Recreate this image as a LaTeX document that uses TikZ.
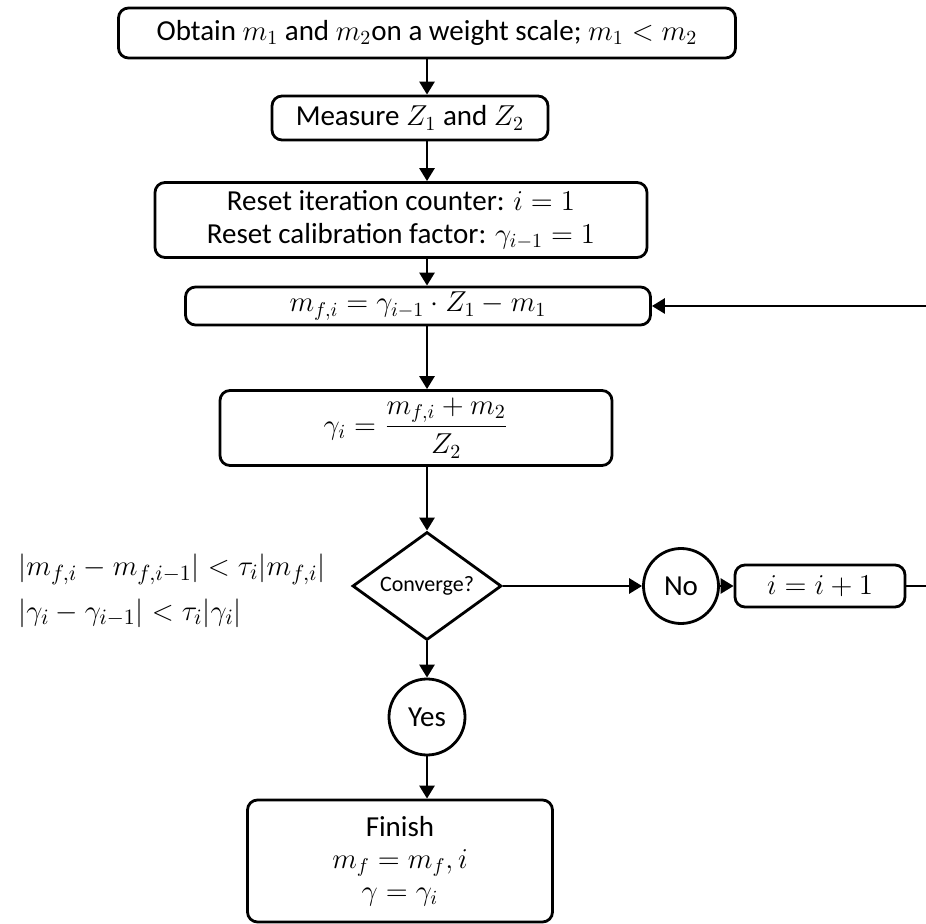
\documentclass[tikz,border=0pt]{standalone}
\usepackage{fontspec}
\setmainfont{Carlito}
\usepackage{amsmath}
\usetikzlibrary{shapes.geometric, arrows.meta}

\tikzset{
  stepbox/.style={draw, line width=1.4pt, rounded corners=5pt, align=center, inner sep=0pt},
  answer/.style={draw, circle, line width=1.4pt, inner sep=0pt},
  decide/.style={draw, diamond, line width=1.4pt, inner sep=0pt, aspect=1.4},
  flow/.style={line width=1.4pt, -{Triangle[length=6.5pt,width=7.5pt]}},
  plain/.style={line width=1.4pt},
}

\begin{document}
\begin{tikzpicture}[x=0.5pt,y=0.5pt,yscale=-1,xscale=1,font=\fontsize{14.5}{16.5}\selectfont]
\useasboundingbox (0,0) rectangle (926,924);

% Boxes
\node[stepbox, minimum width=308.5pt, minimum height=25pt] (obtain) at (427,33)
  {Obtain $m_1$ and $m_2$on a weight scale; $m_1 < m_2$};
\node[stepbox, minimum width=138pt, minimum height=22pt] (measure) at (410,118)
  {Measure $Z_1$ and $Z_2$};
\node[stepbox, minimum width=246pt, minimum height=37.5pt] (reset) at (401,220)
  {Reset iteration counter: $i = 1$\\ Reset calibration factor: $\gamma_{i-1} = 1$};
\node[stepbox, minimum width=232.5pt, minimum height=19pt] (mass) at (418,306)
  {$m_{f,i} = \gamma_{i-1}\cdot Z_1 - m_1$};
\node[stepbox, minimum width=196pt, minimum height=37.5pt] (gamma) at (416,428)
  {$\gamma_i = \dfrac{m_{f,i} + m_2}{Z_2}$};
\node[decide, minimum width=74.5pt, minimum height=54pt] (conv) at (427,586)
  {\fontsize{11}{12}\selectfont Converge?};
\node[answer, minimum size=37.5pt] (no) at (681,586) {No};
\node[stepbox, minimum width=85pt, minimum height=21pt] (incr) at (820,586)
  {$i = i + 1$};
\node[answer, minimum size=38pt] (yes) at (427,717) {Yes};
\node[stepbox, minimum width=152.5pt, minimum height=61pt] (finish) at (400,861)
  {Finish\\[-0.5pt] $m_f = m_f, i$\\[-0.5pt] $\gamma = \gamma_i$};

% Text Node
\node[anchor=west, inner sep=0pt, font=\fontsize{15.5}{17}\selectfont] (crit1) at (18,569)
  {$|m_{f,i} - m_{f,i-1}| < \tau_i|m_{f,i}|$};
\node[anchor=west, inner sep=0pt, font=\fontsize{15.5}{17}\selectfont] (crit2) at (18,613)
  {$|\gamma_i - \gamma_{i-1}| < \tau_i|\gamma_i|$};

% Arrows
\coordinate (spine) at (427,0);
\draw[flow] (obtain.south -| spine) -- (measure.north -| spine);
\draw[flow] (measure.south -| spine) -- (reset.north -| spine);
\draw[flow] (reset.south -| spine) -- (mass.north -| spine);
\draw[flow] (mass.south -| spine) -- (gamma.north -| spine);
\draw[flow] (gamma.south -| spine) -- (conv.north);
\draw[flow] (conv.east) -- (no.west);
\draw[flow] (no.east) -- (incr.west);
\draw[flow] (conv.south) -- (yes.north);
\draw[flow] (yes.south) -- (finish.north -| spine);

% loop back
\coordinate (turn) at (930,586);
\draw[plain] (incr.east) -- (turn) -- (turn |- mass.east);
\draw[flow] (turn |- mass.east) -- (mass.east);

\end{tikzpicture}
\end{document}
